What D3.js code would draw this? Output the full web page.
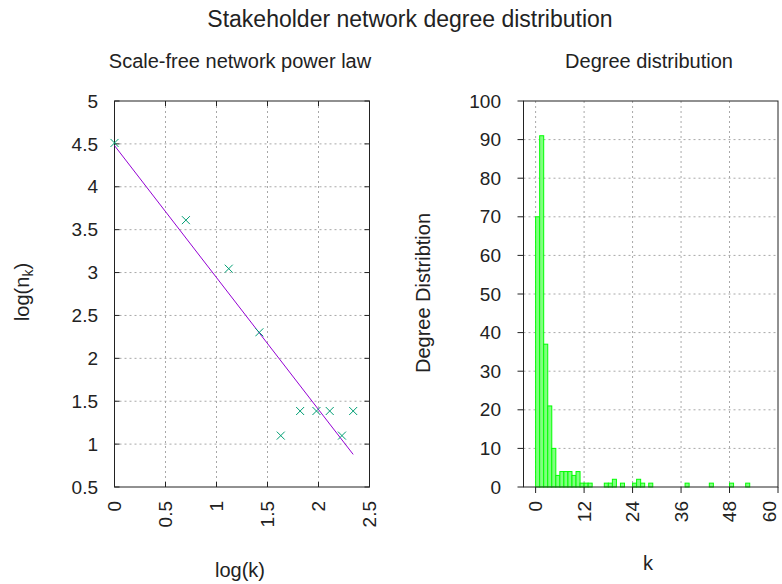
<!DOCTYPE html>
<meta charset="utf-8">
<head>
	<title>Stakeholder network degree distribution</title>
	<script type="text/javascript" src="https://cdn.jsdelivr.net/npm/d3@7"></script>
	<style>
		body { margin: 0; background: #fff; }
		text { font-family: "Liberation Sans", Arial, sans-serif; fill: #222; }
		.grid line { stroke: #a8a8a8; stroke-dasharray: 2,3; }
		.frame { fill: none; stroke: #222; stroke-width: 1; }
		.tick { stroke: #222; stroke-width: 1; }
	</style>
</head>
<body>
	<div id="chart"></div>
	<script>
		// left panel: log-log degree points and the fitted power-law line
		var logK = [0, 0.70, 1.12, 1.42, 1.63, 1.82, 1.98, 2.11, 2.23, 2.34];
		var logN = [4.511, 3.611, 3.045, 2.303, 1.099, 1.386, 1.386, 1.386, 1.099, 1.386];
		var fitK = [0, 2.34];
		var fitN = [4.48, 0.88];
		var logKTicks = [0, 0.5, 1, 1.5, 2, 2.5];
		var logNTicks = [0.5, 1, 1.5, 2, 2.5, 3, 3.5, 4, 4.5, 5];

		// right panel: histogram of degrees (bin start, count)
		var binStart = [0, 1, 2, 3, 4, 5, 6, 7, 8, 9, 10, 11, 12, 13, 17, 18, 19, 21, 24, 25, 26, 28, 37, 43, 48, 52];
		var binCount = [70, 91, 37, 21, 10, 3, 4, 4, 4, 3, 4, 1, 1, 1, 1, 1, 2, 1, 1, 2, 1, 1, 1, 1, 1, 1];
		var kTicks = [0, 12, 24, 36, 48, 60];
		var countTicks = [0, 10, 20, 30, 40, 50, 60, 70, 80, 90, 100];

		var width = 782, height = 584;
		var svg = d3.select("#chart").append("svg")
			.attr("width", width)
			.attr("height", height);

		var plotTop = 101, plotBottom = 487;
		var tickFont = "19px", labelFont = "20px";

		// titles
		svg.append("text").attr("x", 410).attr("y", 27).attr("text-anchor", "middle")
			.style("font-size", "23px").text("Stakeholder network degree distribution");
		svg.append("text").attr("x", 240).attr("y", 68).attr("text-anchor", "middle")
			.style("font-size", "20px").text("Scale-free network power law");
		svg.append("text").attr("x", 649).attr("y", 68).attr("text-anchor", "middle")
			.style("font-size", "20px").text("Degree distribution");

		// ---------- left panel ----------
		var x1 = d3.scaleLinear().domain([0, 2.5]).range([114.5, 369.5]);
		var y1 = d3.scaleLinear().domain([0.5, 5]).range([plotBottom, plotTop]);
		var g1 = svg.append("g");

		var grid1 = g1.append("g").attr("class", "grid");
		grid1.selectAll(".vx").data(logKTicks.slice(1, -1)).enter().append("line")
			.attr("x1", d => x1(d)).attr("x2", d => x1(d)).attr("y1", plotTop).attr("y2", plotBottom);
		grid1.selectAll(".hy").data(logNTicks.slice(1, -1)).enter().append("line")
			.attr("y1", d => y1(d)).attr("y2", d => y1(d)).attr("x1", x1(0)).attr("x2", x1(2.5));

		// inward mirrored ticks
		logKTicks.forEach(function(d) {
			g1.append("line").attr("class", "tick").attr("x1", x1(d)).attr("x2", x1(d)).attr("y1", plotBottom).attr("y2", plotBottom - 5);
			g1.append("line").attr("class", "tick").attr("x1", x1(d)).attr("x2", x1(d)).attr("y1", plotTop).attr("y2", plotTop + 5);
		});
		logNTicks.forEach(function(d) {
			g1.append("line").attr("class", "tick").attr("y1", y1(d)).attr("y2", y1(d)).attr("x1", x1(0)).attr("x2", x1(0) + 5);
			g1.append("line").attr("class", "tick").attr("y1", y1(d)).attr("y2", y1(d)).attr("x1", x1(2.5)).attr("x2", x1(2.5) - 5);
		});
		g1.append("rect").attr("class", "frame")
			.attr("x", x1(0)).attr("y", plotTop).attr("width", x1(2.5) - x1(0)).attr("height", plotBottom - plotTop);

		g1.selectAll(".ylab").data(logNTicks).enter().append("text")
			.attr("x", 98).attr("y", d => y1(d)).attr("dy", "0.35em").attr("text-anchor", "end")
			.style("font-size", tickFont).text(d => d);
		g1.selectAll(".xlab").data(logKTicks).enter().append("text")
			.attr("transform", d => "translate(" + x1(d) + "," + (plotBottom + 14) + ") rotate(-90)")
			.attr("dy", "0.35em").attr("text-anchor", "end")
			.style("font-size", tickFont).text(d => d);

		var fitData = fitK.map((k, i) => [k, fitN[i]]);
		g1.append("path").datum(fitData)
			.attr("d", d3.line().x(d => x1(d[0])).y(d => y1(d[1])))
			.attr("fill", "none").attr("stroke", "#9400d3").attr("stroke-width", 1);

		var pts = logK.map((k, i) => [k, logN[i]]);
		g1.selectAll(".pt").data(pts).enter().append("path")
			.attr("transform", d => "translate(" + x1(d[0]) + "," + y1(d[1]) + ")")
			.attr("d", "M-4,-4L4,4M-4,4L4,-4")
			.attr("stroke", "#009e73").attr("stroke-width", 1).attr("fill", "none");

		svg.append("text").attr("x", 240).attr("y", 577).attr("text-anchor", "middle")
			.style("font-size", labelFont).text("log(k)");
		var yl1 = svg.append("text").attr("transform", "translate(29,292) rotate(-90)")
			.attr("text-anchor", "middle").style("font-size", labelFont);
		yl1.append("tspan").text("log(n");
		yl1.append("tspan").attr("dy", 4).style("font-size", "14px").text("k");
		yl1.append("tspan").attr("dy", -4).text(")");

		// ---------- right panel ----------
		var x2 = d3.scaleLinear().domain([-3, 60]).range([523.5, 778]);
		var y2 = d3.scaleLinear().domain([0, 100]).range([plotBottom, plotTop]);
		var g2 = svg.append("g");

		var grid2 = g2.append("g").attr("class", "grid");
		grid2.selectAll(".vx").data(kTicks.slice(0, -1)).enter().append("line")
			.attr("x1", d => x2(d)).attr("x2", d => x2(d)).attr("y1", plotTop).attr("y2", plotBottom);
		grid2.selectAll(".hy").data(countTicks.slice(1, -1)).enter().append("line")
			.attr("y1", d => y2(d)).attr("y2", d => y2(d)).attr("x1", x2(-3)).attr("x2", x2(60));

		var bins = binStart.map((k, i) => ({k: k, n: binCount[i]}));
		g2.selectAll(".bar").data(bins).enter().append("rect")
			.attr("x", d => x2(d.k)).attr("width", d => x2(d.k + 1) - x2(d.k))
			.attr("y", d => y2(d.n)).attr("height", d => y2(0) - y2(d.n))
			.attr("fill", "#80ff80").attr("stroke", "#00ff00").attr("stroke-width", 1);

		g2.append("rect").attr("class", "frame")
			.attr("x", x2(-3)).attr("y", plotTop).attr("width", x2(60) - x2(-3)).attr("height", plotBottom - plotTop);
		// outward ticks, no mirror
		kTicks.forEach(function(d) {
			g2.append("line").attr("class", "tick").attr("x1", x2(d)).attr("x2", x2(d)).attr("y1", plotBottom).attr("y2", plotBottom + 6);
		});
		countTicks.forEach(function(d) {
			g2.append("line").attr("class", "tick").attr("y1", y2(d)).attr("y2", y2(d)).attr("x1", x2(-3)).attr("x2", x2(-3) - 6);
		});

		g2.selectAll(".ylab").data(countTicks).enter().append("text")
			.attr("x", 501).attr("y", d => y2(d)).attr("dy", "0.35em").attr("text-anchor", "end")
			.style("font-size", tickFont).text(d => d);
		// keep the last label inside the page edge
		g2.selectAll(".xlab").data(kTicks).enter().append("text")
			.attr("transform", d => "translate(" + Math.min(x2(d), 769) + "," + (plotBottom + 14) + ") rotate(-90)")
			.attr("dy", "0.35em").attr("text-anchor", "end")
			.style("font-size", tickFont).text(d => d);

		svg.append("text").attr("x", 648).attr("y", 570).attr("text-anchor", "middle")
			.style("font-size", labelFont).text("k");
		svg.append("text").attr("transform", "translate(430,293) rotate(-90)")
			.attr("text-anchor", "middle").style("font-size", labelFont).text("Degree Distribtion");
	</script>
</body>
</html>
